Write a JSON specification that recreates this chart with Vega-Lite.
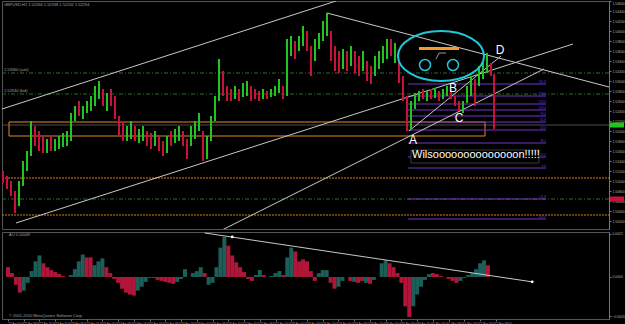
{
"$schema":"https://vega.github.io/schema/vega-lite/v6.json",
"background":"#000000",
"padding":{"left":1,"top":0,"right":0,"bottom":0},
"spacing":0,
"config":{"view":{"stroke":"#555555"},"axis":{"grid":false},"text":{"font":"Liberation Sans"}},
"resolve":{"scale":{"x":"independent","y":"independent","color":"independent"}},
"datasets":{
"candles":[
{"x":2,"h":60,"l":48,"d":"d"},{"x":6,"h":55,"l":42,"d":"d"},{"x":10,"h":50,"l":35,"d":"d"},{"x":14,"h":40,"l":18,"d":"d"},
{"x":18,"h":50,"l":25,"d":"u"},{"x":22,"h":70,"l":45,"d":"u"},{"x":26,"h":80,"l":60,"d":"u"},{"x":30,"h":110,"l":75,"d":"u"},
{"x":34,"h":105,"l":85,"d":"d"},{"x":38,"h":100,"l":80,"d":"d"},{"x":42,"h":95,"l":78,"d":"d"},{"x":46,"h":92,"l":78,"d":"u"},
{"x":50,"h":95,"l":80,"d":"d"},{"x":54,"h":92,"l":80,"d":"u"},{"x":58,"h":95,"l":82,"d":"u"},{"x":62,"h":98,"l":84,"d":"u"},
{"x":66,"h":100,"l":85,"d":"u"},{"x":70,"h":118,"l":90,"d":"u"},{"x":74,"h":125,"l":110,"d":"u"},{"x":78,"h":130,"l":115,"d":"d"},
{"x":82,"h":125,"l":112,"d":"u"},{"x":86,"h":130,"l":118,"d":"u"},{"x":90,"h":135,"l":120,"d":"u"},{"x":94,"h":145,"l":125,"d":"u"},
{"x":98,"h":150,"l":132,"d":"u"},{"x":102,"h":142,"l":125,"d":"d"},{"x":106,"h":138,"l":120,"d":"u"},{"x":110,"h":142,"l":125,"d":"d"},
{"x":114,"h":135,"l":112,"d":"d"},{"x":118,"h":115,"l":95,"d":"d"},{"x":122,"h":110,"l":90,"d":"d"},{"x":126,"h":105,"l":90,"d":"u"},
{"x":130,"h":110,"l":92,"d":"u"},{"x":134,"h":105,"l":90,"d":"d"},{"x":138,"h":102,"l":88,"d":"u"},{"x":142,"h":105,"l":90,"d":"u"},
{"x":146,"h":100,"l":85,"d":"d"},{"x":150,"h":98,"l":82,"d":"d"},{"x":154,"h":100,"l":85,"d":"u"},{"x":158,"h":95,"l":80,"d":"d"},
{"x":162,"h":90,"l":75,"d":"d"},{"x":166,"h":95,"l":78,"d":"u"},{"x":170,"h":100,"l":85,"d":"d"},{"x":174,"h":102,"l":88,"d":"u"},
{"x":178,"h":105,"l":90,"d":"u"},{"x":182,"h":100,"l":85,"d":"d"},{"x":186,"h":92,"l":72,"d":"d"},{"x":190,"h":105,"l":85,"d":"u"},
{"x":194,"h":110,"l":92,"d":"u"},{"x":198,"h":118,"l":100,"d":"u"},{"x":202,"h":100,"l":70,"d":"d"},{"x":206,"h":95,"l":72,"d":"u"},
{"x":210,"h":115,"l":90,"d":"u"},{"x":214,"h":135,"l":110,"d":"u"},{"x":218,"h":172,"l":130,"d":"u"},{"x":222,"h":160,"l":135,"d":"d"},
{"x":226,"h":145,"l":130,"d":"d"},{"x":230,"h":142,"l":130,"d":"d"},{"x":234,"h":145,"l":132,"d":"u"},{"x":238,"h":142,"l":130,"d":"d"},
{"x":242,"h":148,"l":134,"d":"u"},{"x":246,"h":150,"l":135,"d":"u"},{"x":250,"h":145,"l":130,"d":"d"},{"x":254,"h":142,"l":132,"d":"d"},
{"x":258,"h":140,"l":130,"d":"d"},{"x":262,"h":142,"l":132,"d":"u"},{"x":266,"h":140,"l":132,"d":"d"},{"x":270,"h":142,"l":134,"d":"u"},
{"x":274,"h":145,"l":135,"d":"u"},{"x":278,"h":152,"l":138,"d":"u"},{"x":282,"h":145,"l":132,"d":"d"},{"x":286,"h":192,"l":135,"d":"u"},
{"x":290,"h":195,"l":175,"d":"u"},{"x":294,"h":190,"l":172,"d":"d"},{"x":298,"h":195,"l":180,"d":"u"},{"x":302,"h":205,"l":185,"d":"u"},
{"x":306,"h":200,"l":180,"d":"d"},{"x":310,"h":185,"l":155,"d":"d"},{"x":314,"h":192,"l":170,"d":"u"},{"x":318,"h":198,"l":182,"d":"u"},
{"x":322,"h":210,"l":190,"d":"u"},{"x":326,"h":218,"l":195,"d":"u"},{"x":330,"h":200,"l":170,"d":"d"},{"x":334,"h":185,"l":160,"d":"d"},
{"x":338,"h":180,"l":158,"d":"d"},{"x":342,"h":182,"l":162,"d":"u"},{"x":346,"h":180,"l":160,"d":"d"},{"x":350,"h":185,"l":165,"d":"u"},
{"x":354,"h":180,"l":158,"d":"d"},{"x":358,"h":175,"l":155,"d":"d"},{"x":362,"h":180,"l":160,"d":"u"},{"x":366,"h":170,"l":150,"d":"d"},
{"x":370,"h":165,"l":147,"d":"d"},{"x":374,"h":175,"l":155,"d":"u"},{"x":378,"h":180,"l":162,"d":"u"},{"x":382,"h":185,"l":168,"d":"u"},
{"x":386,"h":192,"l":172,"d":"u"},{"x":390,"h":192,"l":175,"d":"d"},{"x":394,"h":188,"l":168,"d":"u"},{"x":398,"h":170,"l":148,"d":"d"},
{"x":402,"h":155,"l":130,"d":"d"},{"x":406,"h":135,"l":100,"d":"d"},{"x":410,"h":130,"l":102,"d":"u"},{"x":414,"h":138,"l":122,"d":"u"},
{"x":418,"h":140,"l":130,"d":"u"},{"x":422,"h":142,"l":132,"d":"d"},{"x":426,"h":140,"l":130,"d":"u"},{"x":430,"h":142,"l":132,"d":"d"},
{"x":434,"h":143,"l":133,"d":"u"},{"x":438,"h":140,"l":130,"d":"d"},{"x":442,"h":142,"l":132,"d":"u"},{"x":446,"h":145,"l":135,"d":"u"},
{"x":450,"h":142,"l":132,"d":"d"},{"x":454,"h":135,"l":125,"d":"d"},{"x":458,"h":130,"l":120,"d":"d"},{"x":462,"h":130,"l":118,"d":"u"},
{"x":466,"h":145,"l":128,"d":"u"},{"x":470,"h":155,"l":135,"d":"u"},{"x":474,"h":152,"l":125,"d":"d"},{"x":478,"h":165,"l":145,"d":"u"},
{"x":482,"h":170,"l":152,"d":"u"},{"x":486,"h":178,"l":158,"d":"u"},{"x":490,"h":168,"l":155,"d":"d"},{"x":493,"h":157,"l":102,"d":"d"}
],
"osc":[
{"x":2,"v":10,"s":"r"},{"x":6,"v":4,"s":"r"},{"x":10,"v":-8,"s":"r"},{"x":14,"v":-16,"s":"r"},{"x":18,"v":-14,"s":"t"},{"x":22,"v":-6,"s":"t"},
{"x":26,"v":6,"s":"t"},{"x":30,"v":16,"s":"t"},{"x":34,"v":22,"s":"t"},{"x":38,"v":14,"s":"r"},{"x":42,"v":10,"s":"r"},{"x":46,"v":7,"s":"r"},
{"x":50,"v":5,"s":"r"},{"x":54,"v":3,"s":"r"},{"x":58,"v":1,"s":"r"},{"x":62,"v":0,"s":"r"},{"x":66,"v":2,"s":"t"},{"x":70,"v":8,"s":"t"},
{"x":74,"v":16,"s":"t"},{"x":78,"v":23,"s":"t"},{"x":82,"v":20,"s":"r"},{"x":86,"v":20,"s":"r"},{"x":90,"v":12,"s":"t"},{"x":94,"v":16,"s":"t"},
{"x":98,"v":19,"s":"t"},{"x":102,"v":10,"s":"r"},{"x":106,"v":4,"s":"r"},{"x":110,"v":-2,"s":"r"},{"x":114,"v":-6,"s":"r"},{"x":118,"v":-12,"s":"r"},
{"x":122,"v":-16,"s":"r"},{"x":126,"v":-18,"s":"r"},{"x":130,"v":-19,"s":"r"},{"x":134,"v":-14,"s":"t"},{"x":138,"v":-10,"s":"t"},{"x":142,"v":-5,"s":"t"},
{"x":146,"v":-1,"s":"t"},{"x":150,"v":-1,"s":"r"},{"x":154,"v":-3,"s":"r"},{"x":158,"v":-4,"s":"r"},{"x":162,"v":-5,"s":"r"},{"x":166,"v":-6,"s":"r"},
{"x":170,"v":-7,"s":"r"},{"x":174,"v":-5,"s":"t"},{"x":178,"v":-2,"s":"t"},{"x":182,"v":8,"s":"t"},{"x":186,"v":0,"s":"r"},{"x":190,"v":4,"s":"t"},
{"x":194,"v":6,"s":"t"},{"x":198,"v":10,"s":"t"},{"x":202,"v":4,"s":"r"},{"x":206,"v":-8,"s":"t"},{"x":210,"v":-6,"s":"t"},{"x":214,"v":10,"s":"t"},
{"x":218,"v":30,"s":"t"},{"x":222,"v":41,"s":"t"},{"x":226,"v":32,"s":"r"},{"x":230,"v":22,"s":"r"},{"x":234,"v":15,"s":"r"},{"x":238,"v":10,"s":"r"},
{"x":242,"v":5,"s":"r"},{"x":246,"v":-2,"s":"r"},{"x":250,"v":-4,"s":"r"},{"x":254,"v":2,"s":"t"},{"x":258,"v":7,"s":"t"},{"x":262,"v":2,"s":"r"},
{"x":266,"v":0,"s":"r"},{"x":270,"v":1,"s":"t"},{"x":274,"v":4,"s":"t"},{"x":278,"v":6,"s":"t"},{"x":282,"v":2,"s":"r"},{"x":286,"v":20,"s":"t"},
{"x":290,"v":30,"s":"t"},{"x":294,"v":26,"s":"r"},{"x":298,"v":16,"s":"r"},{"x":302,"v":18,"s":"r"},{"x":306,"v":16,"s":"r"},{"x":310,"v":6,"s":"r"},
{"x":314,"v":-4,"s":"r"},{"x":318,"v":4,"s":"t"},{"x":322,"v":7,"s":"t"},{"x":326,"v":7,"s":"t"},{"x":330,"v":-6,"s":"r"},{"x":334,"v":-12,"s":"r"},
{"x":338,"v":-10,"s":"t"},{"x":342,"v":-4,"s":"t"},{"x":346,"v":0,"s":"t"},{"x":350,"v":-4,"s":"r"},{"x":354,"v":-5,"s":"t"},{"x":358,"v":-6,"s":"r"},
{"x":362,"v":-4,"s":"r"},{"x":366,"v":-6,"s":"t"},{"x":370,"v":-7,"s":"r"},{"x":374,"v":-3,"s":"t"},{"x":378,"v":0,"s":"t"},{"x":382,"v":14,"s":"t"},
{"x":386,"v":17,"s":"t"},{"x":390,"v":14,"s":"r"},{"x":394,"v":10,"s":"r"},{"x":398,"v":4,"s":"r"},{"x":402,"v":-6,"s":"r"},{"x":406,"v":-30,"s":"r"},
{"x":410,"v":-41,"s":"r"},{"x":414,"v":-30,"s":"t"},{"x":418,"v":-18,"s":"t"},{"x":422,"v":-10,"s":"t"},{"x":426,"v":-3,"s":"t"},{"x":430,"v":3,"s":"t"},
{"x":434,"v":4,"s":"r"},{"x":438,"v":3,"s":"r"},{"x":442,"v":1,"s":"r"},{"x":446,"v":0,"s":"r"},{"x":450,"v":-2,"s":"r"},{"x":454,"v":-4,"s":"r"},
{"x":458,"v":-6,"s":"r"},{"x":462,"v":-4,"s":"t"},{"x":466,"v":-1,"s":"t"},{"x":470,"v":2,"s":"t"},{"x":474,"v":4,"s":"t"},{"x":478,"v":8,"s":"t"},
{"x":482,"v":14,"s":"t"},{"x":486,"v":17,"s":"t"},{"x":490,"v":12,"s":"r"}
],
"trend":[
{"id":"L1","x":1,"v":122},{"id":"L1","x":335,"v":230},
{"id":"L2","x":15,"v":8},{"id":"L2","x":572,"v":187},
{"id":"L3","x":215,"v":-2},{"id":"L3","x":543,"v":162},
{"id":"L4","x":326,"v":218},{"id":"L4","x":608,"v":144},
{"id":"L5","x":408,"v":100},{"id":"L5","x":500,"v":175}
],
"fib":[
{"x":407,"x2":545,"v":147,"t":"161.8"},{"x":407,"x2":545,"v":135,"t":"138.2"},{"x":407,"x2":545,"v":127,"t":"123.6"},
{"x":407,"x2":545,"v":121,"t":"100.0"},{"x":407,"x2":545,"v":115,"t":"76.4"},{"x":407,"x2":545,"v":109,"t":"61.8"},
{"x":407,"x2":545,"v":101,"t":"50.0"},{"x":407,"x2":545,"v":88,"t":"38.2"},{"x":407,"x2":545,"v":74,"t":"23.6"},
{"x":407,"x2":545,"v":63,"t":"0.0"},{"x":407,"x2":545,"v":32,"t":"-61.8"},{"x":407,"x2":545,"v":12,"t":"-100.0"}
]
},
"vconcat":[
{
"width":607,"height":228,
"encoding":{
"x":{"field":"x","type":"quantitative","scale":{"domain":[1,608],"nice":false,"zero":false},"axis":null},
"y":{"field":"v","type":"quantitative","scale":{"domain":[2,230],"nice":false,"zero":false},
"axis":{"orient":"right","title":null,"tickCount":22,"labelFlush":true,"labelFontSize":3.4,"labelColor":"#b0b0b0","labelFont":"Liberation Sans","tickColor":"#777777","tickSize":2,"domainColor":"#777777","labelPadding":1,"labelExpr":"format(1.5+datum.value*0.0002,'.5f')"}}
},
"layer":[
{"data":{"values":[{"x":1,"x2":608,"v":158},{"x":1,"x2":608,"v":137},{"x":1,"x2":608,"v":32}]},
"mark":{"type":"rule","color":"#2a6a2a","strokeWidth":1,"strokeDash":[4,2,1,2]},"encoding":{"x2":{"field":"x2"}}},
{"data":{"values":[{"x":1,"x2":608,"v":53},{"x":1,"x2":608,"v":16}]},
"mark":{"type":"rule","color":"#d9801c","strokeWidth":1,"strokeDash":[2,1]},"encoding":{"x2":{"field":"x2"}}},
{"data":{"values":[{"x":1,"x2":608,"v":106}]},
"mark":{"type":"rule","color":"#4a4a4a","strokeWidth":1},"encoding":{"x2":{"field":"x2"}}},
{"data":{"values":[{"x":8,"x2":484,"v":109,"v2":95}]},
"mark":{"type":"rect","fill":null,"fillOpacity":0,"stroke":"#e08a22","strokeWidth":1},"encoding":{"x2":{"field":"x2"},"y2":{"field":"v2"}}},
{"data":{"name":"fib"},"mark":{"type":"rule","color":"#7434c4","strokeWidth":1},"encoding":{"x2":{"field":"x2"}}},
{"data":{"name":"fib"},"mark":{"type":"text","color":"#7434c4","fontSize":3,"align":"right","dy":-2},"encoding":{"x":{"field":"x2","type":"quantitative"},"text":{"field":"t"}}},
{"data":{"name":"trend"},"mark":{"type":"line","color":"#c8c8c8","strokeWidth":1,"clip":true},"encoding":{"detail":{"field":"id"}}},
{"data":{"name":"candles"},"mark":{"type":"rule","strokeWidth":2},
"encoding":{"y":{"field":"l","type":"quantitative"},"y2":{"field":"h"},
"color":{"field":"d","type":"nominal","scale":{"domain":["u","d"],"range":["#22c422","#c8123a"]},"legend":null}}},
{"data":{"values":[{"x":440,"v":175}]},
"mark":{"type":"point","shape":"M-1,0A1,0.58,0,1,1,1,0A1,0.58,0,1,1,-1,0Z","size":7400,"filled":false,"stroke":"#1ec8d8","strokeWidth":2,"opacity":1}},
{"data":{"values":[{"x":424,"v":166},{"x":452,"v":166}]},
"mark":{"type":"point","shape":"circle","size":120,"filled":false,"stroke":"#1ec8d8","strokeWidth":1.5,"opacity":1}},
{"data":{"values":[{"x":418,"x2":458,"v":184,"v2":181}]},
"mark":{"type":"rect","fill":"#f39a2d"},"encoding":{"x2":{"field":"x2"},"y2":{"field":"v2"}}},
{"data":{"values":[{"x":435,"v":172},{"x":438,"v":178},{"x":445,"v":178}]},
"mark":{"type":"line","color":"#999999","strokeWidth":1}},
{"data":{"values":[{"x":410,"x2":538,"v":81,"v2":68}]},
"mark":{"type":"rect","fill":"#000000","stroke":"#3a3a3a","strokeWidth":1},"encoding":{"x2":{"field":"x2"},"y2":{"field":"v2"}}},
{"data":{"values":[{"x":411,"v":76,"t":"Wilsoooooooooooooon!!!!!"}]},
"mark":{"type":"text","color":"#ffffff","fontSize":11,"align":"left","baseline":"middle"},"encoding":{"text":{"field":"t"}}},
{"data":{"values":[{"x":412,"v":91,"t":"A"},{"x":452,"v":143,"t":"B"},{"x":458,"v":113,"t":"C"},{"x":499,"v":181,"t":"D"}]},
"mark":{"type":"text","color":"#ffffff","fontSize":12,"align":"center","baseline":"middle"},"encoding":{"text":{"field":"t"}}},
{"data":{"values":[{"x":3,"v":226,"t":"GBPUSD,H1  1.52266 1.52338 1.52202 1.52294"},{"x":3,"v":161,"t":"1.53360 (ask)"},{"x":3,"v":140,"t":"1.52940 (bid)"}]},
"mark":{"type":"text","color":"#a0a0a0","fontSize":4,"align":"left","baseline":"middle"},"encoding":{"text":{"field":"t"}}},
{"data":{"values":[{"x":609,"x2":623,"v":108.5,"v2":103.5,"k":"w"},{"x":609,"x2":623,"v":34.5,"v2":29.5,"k":"g"}]},
"mark":{"type":"rect","clip":false},"encoding":{"x2":{"field":"x2"},"y2":{"field":"v2"},
"color":{"field":"k","type":"nominal","scale":{"domain":["w","g"],"range":["#e0e0e0","#20b040"]},"legend":null}}}
]
},
{
"width":607,"height":87,
"encoding":{
"x":{"field":"x","type":"quantitative","scale":{"domain":[1,608],"nice":false,"zero":false},
"axis":{"orient":"bottom","title":null,"values":[2,18,34,50,66,82,98,114,130,146,162,178,194,210,226,242,258,274,290,306,322,338,354,370,386,402,418,434,450,466,482,498],
"labelFontSize":2.8,"labelColor":"#a0a0a0","labelFont":"Liberation Sans","labelAlign":"left","tickColor":"#777777","tickSize":2,"domain":false,"labelPadding":1,"labelOverlap":false,
"labelExpr":"(22+floor(datum.value/48) > 30 ? (floor(datum.value/48)-8) + ' May ' : (22+floor(datum.value/48)) + ' Apr ') + ['00:00','08:00','16:00'][floor(datum.value/16)%3]"}},
"y":{"field":"v","type":"quantitative","scale":{"domain":[-43,46],"nice":false,"zero":false},
"axis":{"orient":"right","title":null,"values":[-40,0,44],"labelFlush":true,"labelFontSize":3.4,"labelColor":"#b0b0b0","labelFont":"Liberation Sans","tickColor":"#777777","tickSize":2,"domainColor":"#777777","labelPadding":1,"labelExpr":"format(datum.value*0.00005,'.4f')"}}
},
"layer":[
{"data":{"name":"osc"},"mark":{"type":"bar","width":4},
"encoding":{"y2":{"datum":0},"color":{"field":"s","type":"nominal","scale":{"domain":["t","r"],"range":["#1b5f58","#b0163a"]},"legend":null}}},
{"data":{"values":[{"x":202,"v":45},{"x":535,"v":-5}]},"mark":{"type":"line","color":"#c8c8c8","strokeWidth":1}},
{"data":{"values":[{"x":230,"v":41},{"x":535,"v":-5}]},"mark":{"type":"point","filled":true,"color":"#ffffff","size":8,"opacity":1}},
{"data":{"values":[{"x":3,"v":43,"t":"AO 0.00049"},{"x":3,"v":-40,"t":"© 2001-2010 MetaQuotes Software Corp."}]},
"mark":{"type":"text","color":"#a0a0a0","fontSize":4,"align":"left","baseline":"middle"},"encoding":{"text":{"field":"t"}}}
]
}
]
}
